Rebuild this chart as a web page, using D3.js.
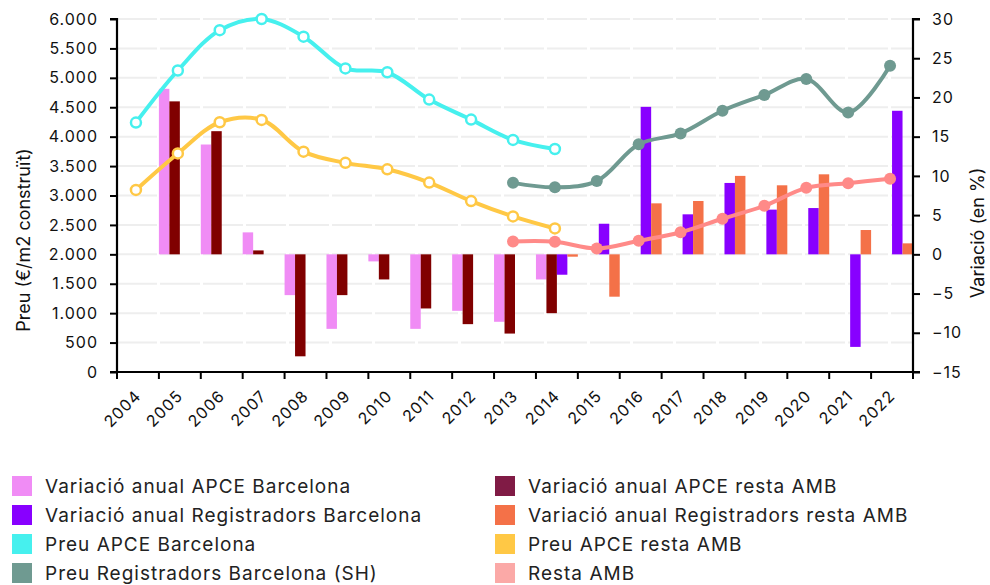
<!DOCTYPE html>
<html><head><meta charset="utf-8">
<script src="https://cdn.jsdelivr.net/npm/d3@7"></script>
<style>
html,body{margin:0;padding:0;background:#fff;}
svg{display:block;font-family:Inter, "Noto Sans", sans-serif;}
</style></head>
<body>
<svg id="c" width="990" height="585"></svg>
<script>
const years = [2004,2005,2006,2007,2008,2009,2010,2011,2012,2013,2014,2015,2016,2017,2018,2019,2020,2021,2022];
const leftTicks = [0,500,1000,1500,2000,2500,3000,3500,4000,4500,5000,5500,6000];
const rightTicks = [-15,-10,-5,0,5,10,15,20,25,30];

// bar series (right axis, %)
const varApceBcn   = [null,21.1,14.0,2.8,-5.2,-9.5,-0.9,-9.5,-7.2,-8.6,-3.2,null,null,null,null,null,null,null,null];
const varApceResta = [null,19.5,15.7,0.5,-13.0,-5.2,-3.2,-6.9,-8.9,-10.1,-7.5,null,null,null,null,null,null,null,null];
const varRegBcn    = [null,null,null,null,null,null,null,null,null,null,-2.6,3.9,18.8,5.1,9.1,5.7,5.9,-11.8,18.3];
const varRegResta  = [null,null,null,null,null,null,null,null,null,null,-0.3,-5.4,6.5,6.8,10.0,8.8,10.2,3.1,1.4];

// line series (left axis, €/m2)
const preuApceBcn   = [4240,5125,5810,6000,5700,5160,5095,4630,4290,3945,3790,null,null,null,null,null,null,null,null];
const preuApceResta = [3095,3715,4245,4285,3745,3555,3445,3220,2905,2645,2440,null,null,null,null,null,null,null,null];
const preuRegBcn    = [null,null,null,null,null,null,null,null,null,3215,3140,3245,3870,4055,4440,4710,4980,4410,5205];
const restaAmb      = [null,null,null,null,null,null,null,null,null,2220,2215,2100,2230,2375,2605,2825,3130,3210,3285];

const barSeries = [
  {name:"Variació anual APCE Barcelona", values:varApceBcn, color:"#F08CF5", legend:"#F08CF5"},
  {name:"Variació anual APCE resta AMB", values:varApceResta, color:"#800000", legend:"#801B45"},
  {name:"Variació anual Registradors Barcelona", values:varRegBcn, color:"#8800FF", legend:"#8800FF"},
  {name:"Variació anual Registradors resta AMB", values:varRegResta, color:"#F47148", legend:"#F47148"}
];
const lineSeries = [
  {name:"Preu APCE Barcelona", values:preuApceBcn, color:"#46F0EE", open:true},
  {name:"Preu APCE resta AMB", values:preuApceResta, color:"#FFC845", open:true},
  {name:"Preu Registradors Barcelona (SH)", values:preuRegBcn, color:"#6F9A91", open:false},
  {name:"Resta AMB", values:restaAmb, color:"#FF8A88", open:false, legend:"#FBA9A7"}
];

const svg = d3.select("#c");
const L = 117, R = 913, T = 19, B = 372;

const x = d3.scaleBand().domain(years).range([L, R]).padding(0);
const xi = d3.scaleBand().domain(d3.range(4)).range([0, x.bandwidth()]).padding(0);
const yL = d3.scaleLinear().domain([0, 6000]).range([B, T]);
const yR = d3.scaleLinear().domain([-15, 30]).range([B, T]);

// grid
svg.append("g").selectAll("line").data(leftTicks.filter(d=>d>0)).join("line")
  .attr("x1", L).attr("x2", R)
  .attr("y1", d=>yL(d)).attr("y2", d=>yL(d))
  .attr("stroke", "#eeeeee").attr("stroke-width", 2)
  .attr("stroke-dasharray", "40,3");

// bars
barSeries.forEach((s, si) => {
  svg.append("g").selectAll("rect")
    .data(years.map((yr, i) => ({yr, v:s.values[i]})).filter(d => d.v !== null))
    .join("rect")
    .attr("x", d => x(d.yr) + xi(si))
    .attr("width", xi.bandwidth())
    .attr("y", d => Math.min(yR(d.v), yR(0)))
    .attr("height", d => Math.abs(yR(d.v) - yR(0)))
    .attr("fill", s.color);
});

// lines
const cx = yr => x(yr) + x.bandwidth()/2 - 2;
lineSeries.forEach(s => {
  const pts = years.map((yr, i) => ({yr, v:s.values[i]})).filter(d => d.v !== null);
  const line = d3.line().x(d => cx(d.yr)).y(d => yL(d.v)).curve(d3.curveCatmullRom.alpha(0.5));
  svg.append("path").datum(pts).attr("d", line)
    .attr("fill", "none").attr("stroke", s.color).attr("stroke-width", 4)
    .attr("stroke-linecap", "round");
  svg.append("g").selectAll("circle").data(pts).join("circle")
    .attr("cx", d => cx(d.yr)).attr("cy", d => yL(d.v))
    .attr("r", s.open ? 5 : 6)
    .attr("fill", s.open ? "#fff" : s.color)
    .attr("stroke", s.color).attr("stroke-width", s.open ? 2.5 : 0);
});

// axes
const fmt = d => d3.format(",")(d).replace(/,/g, ".");
const axL = svg.append("g").attr("transform", `translate(${L},0)`)
  .call(d3.axisLeft(yL).tickValues(leftTicks).tickFormat(fmt).tickSize(7).tickPadding(12));
const axR = svg.append("g").attr("transform", `translate(${R},0)`)
  .call(d3.axisRight(yR).tickValues(rightTicks).tickSize(7).tickPadding(12));
const axB = svg.append("g").attr("transform", `translate(0,${B})`)
  .call(d3.axisBottom(x).tickSize(0).tickFormat(""));
// boundary ticks for x axis
svg.append("g").selectAll("line").data(years.concat([null])).join("line")
  .attr("x1", (d,i) => L + i*x.bandwidth()).attr("x2", (d,i) => L + i*x.bandwidth())
  .attr("y1", B).attr("y2", B + 7).attr("stroke", "#000").attr("stroke-width", 2);

[axL, axR, axB].forEach(a => {
  a.selectAll(".domain").attr("stroke", "#000").attr("stroke-width", 2.2);
  a.selectAll(".tick line").attr("stroke", "#000").attr("stroke-width", 2);
  a.selectAll("text").attr("font-size", 16).attr("fill", "#111")
    .attr("font-family", "Inter, sans-serif").attr("letter-spacing", "1px");
});
axL.select(".domain").attr("d", `M-7,${T}H0V${B}H-7`);
axR.select(".domain").attr("d", `M7,${T}H0V${B}H7`);
axB.select(".domain").attr("d", `M${L-7},0H${R+7}`);

// x labels
svg.append("g").selectAll("text").data(years).join("text")
  .attr("transform", d => `translate(${x(d) + x.bandwidth()/2 + 4},${B + 25}) rotate(-45)`)
  .attr("text-anchor", "end")
  .attr("font-size", 16).attr("fill", "#111").attr("letter-spacing", "1px")
  .text(d => d);

// axis titles
svg.append("text").attr("transform", "translate(30,240) rotate(-90)")
  .attr("text-anchor", "middle").attr("font-size", 18).attr("fill", "#111")
  .text("Preu (€/m2 construït)");
svg.append("text").attr("transform", "translate(984,233) rotate(-90)")
  .attr("text-anchor", "middle").attr("font-size", 18).attr("fill", "#111")
  .text("Variació (en %)");

// legend
const legendItems = [
  {name:barSeries[0].name, color:barSeries[0].legend, col:0, row:0},
  {name:barSeries[2].name, color:barSeries[2].legend, col:0, row:1},
  {name:lineSeries[0].name, color:lineSeries[0].color, col:0, row:2},
  {name:lineSeries[2].name, color:lineSeries[2].color, col:0, row:3},
  {name:barSeries[1].name, color:barSeries[1].legend, col:1, row:0},
  {name:barSeries[3].name, color:barSeries[3].legend, col:1, row:1},
  {name:lineSeries[1].name, color:lineSeries[1].color, col:1, row:2},
  {name:lineSeries[3].name, color:lineSeries[3].legend, col:1, row:3}
];
const lg = svg.append("g").selectAll("g").data(legendItems).join("g")
  .attr("transform", d => `translate(${d.col ? 495 : 12},${476 + d.row*29})`);
lg.append("rect").attr("width", 20).attr("height", 20).attr("fill", d => d.color);
lg.append("text").attr("x", 33).attr("y", 17).attr("font-size", 19).attr("fill", "#222")
  .attr("letter-spacing", "1px")
  .text(d => d.name);
</script>
</body></html>
